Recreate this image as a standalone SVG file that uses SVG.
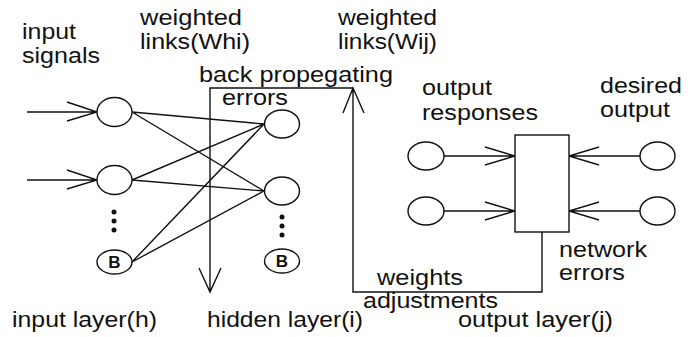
<svg xmlns="http://www.w3.org/2000/svg" width="695" height="337" viewBox="0 0 695 337">
<style>
text{font-family:"Liberation Sans",Arial,sans-serif;font-size:21.5px;fill:#111}
.n{fill:#fff;stroke:#111;stroke-width:1.4}
.l{fill:none;stroke:#111;stroke-width:1.4}
.b{font-weight:bold;font-size:17px;text-anchor:middle}
.d{fill:#111}
</style>
<rect width="695" height="337" fill="#fff"/>
<g id="connectors">
<path class="l" d="M27,112H97M67,102L97,112L67,121"/>
<path class="l" d="M27,180H97M67,170L97,180L67,189"/>
<path class="l" d="M132,112L264,124M132,112L264,191M132,180L264,124M132,180L264,191M132,262L264,124M132,262L264,191"/>
<path class="l" d="M542,232V292H353V88H210V292M343,113L353,88L364,113M199,268L210,292L221,268"/>
<path class="l" d="M444,156H515M485,147L515,156L485,165"/>
<path class="l" d="M444,211H515M485,202L515,211L485,220"/>
<path class="l" d="M640,156H569M599,147L569,156L599,165"/>
<path class="l" d="M640,211H569M599,202L569,211L599,220"/>
</g>
<g id="input1"><ellipse class="n" cx="114.5" cy="112" rx="17.5" ry="14.5"/></g>
<g id="input2"><ellipse class="n" cx="114.5" cy="180" rx="17.5" ry="14.5"/></g>
<g id="input-dots"><circle class="d" cx="114" cy="212" r="2.5"/><circle class="d" cx="114" cy="221" r="2.5"/><circle class="d" cx="114" cy="230" r="2.5"/></g>
<g id="inputB"><ellipse class="n" cx="114.5" cy="262" rx="17.5" ry="12"/><text class="b" x="114.5" y="268">B</text></g>
<g id="hidden1"><ellipse class="n" cx="282" cy="124" rx="17.5" ry="14"/></g>
<g id="hidden2"><ellipse class="n" cx="282" cy="191" rx="17.5" ry="14"/></g>
<g id="hidden-dots"><circle class="d" cx="282" cy="217" r="2.5"/><circle class="d" cx="282" cy="226" r="2.5"/><circle class="d" cx="282" cy="235" r="2.5"/></g>
<g id="hiddenB"><ellipse class="n" cx="282" cy="261" rx="17.5" ry="12"/><text class="b" x="282" y="267">B</text></g>
<g id="errorbox"><rect class="n" x="515" y="135" width="54" height="97"/></g>
<g id="out1"><ellipse class="n" cx="426" cy="156" rx="18" ry="14"/></g>
<g id="out2"><ellipse class="n" cx="426" cy="211" rx="18" ry="14"/></g>
<g id="des1"><ellipse class="n" cx="657.5" cy="156" rx="17.5" ry="14"/></g>
<g id="des2"><ellipse class="n" cx="657.5" cy="211" rx="17.5" ry="14"/></g>
<g id="labels">
<text x="22" y="39" textLength="54" lengthAdjust="spacingAndGlyphs">input</text>
<text x="22" y="63" textLength="78" lengthAdjust="spacingAndGlyphs">signals</text>
<text x="140" y="25" textLength="102" lengthAdjust="spacingAndGlyphs">weighted</text>
<text x="140" y="49" textLength="110" lengthAdjust="spacingAndGlyphs">links(Whi)</text>
<text x="338" y="25" textLength="99" lengthAdjust="spacingAndGlyphs">weighted</text>
<text x="338" y="49" textLength="99" lengthAdjust="spacingAndGlyphs">links(Wij)</text>
<text x="199" y="82" textLength="194" lengthAdjust="spacingAndGlyphs">back propegating</text>
<text x="222" y="105" textLength="66" lengthAdjust="spacingAndGlyphs">errors</text>
<text x="422" y="95" textLength="70" lengthAdjust="spacingAndGlyphs">output</text>
<text x="422" y="120" textLength="116" lengthAdjust="spacingAndGlyphs">responses</text>
<text x="600" y="93" textLength="82" lengthAdjust="spacingAndGlyphs">desired</text>
<text x="600" y="117" textLength="70" lengthAdjust="spacingAndGlyphs">output</text>
<text x="559" y="257" textLength="88" lengthAdjust="spacingAndGlyphs">network</text>
<text x="559" y="280" textLength="66" lengthAdjust="spacingAndGlyphs">errors</text>
<text x="377" y="285" textLength="86" lengthAdjust="spacingAndGlyphs">weights</text>
<text x="363" y="308" textLength="135" lengthAdjust="spacingAndGlyphs">adjustments</text>
<text x="12" y="327" textLength="145" lengthAdjust="spacingAndGlyphs">input layer(h)</text>
<text x="207" y="327" textLength="156" lengthAdjust="spacingAndGlyphs">hidden layer(i)</text>
<text x="458" y="327" textLength="155" lengthAdjust="spacingAndGlyphs">output layer(j)</text>
</g>
</svg>
